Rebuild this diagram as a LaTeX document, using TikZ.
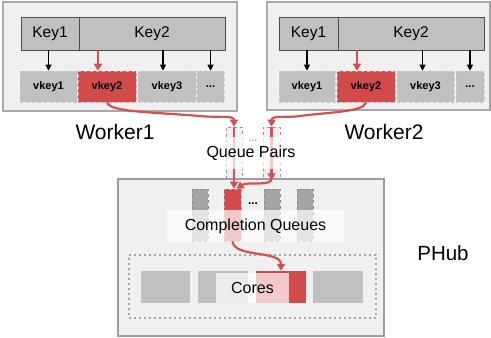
\documentclass[tikz,border=0pt]{standalone}
\usepackage{fontspec}
\setmainfont{Liberation Sans}
\usetikzlibrary{arrows.meta}
\definecolor{myred}{RGB}{210,75,75}
\definecolor{redline}{RGB}{214,80,80}
\definecolor{bgfill}{RGB}{240,240,240}
\definecolor{wborder}{RGB}{168,168,168}
\definecolor{keyfill}{RGB}{192,192,192}
\definecolor{cqfill}{RGB}{165,165,165}
\definecolor{corefill}{RGB}{192,192,192}
\newcommand\bx[7]{%
  \pgfmathsetmacro\bxw{#4-#2}\pgfmathsetmacro\bxh{#5-#3}%
  \pgfmathsetmacro\bxcx{(#2+#4)/2}\pgfmathsetmacro\bxcy{(#3+#5)/2}%
  \node[rectangle, inner sep=0pt, minimum width=\bxw pt, minimum height=\bxh pt, #6] (#1) at (\bxcx,\bxcy) {#7};}
\tikzset{
  wbox/.style={fill=bgfill, draw=wborder, line width=2pt},
  keybox/.style={fill=keyfill, draw=black!70, line width=0.8pt, font=\fontsize{15.5}{18}\selectfont},
  vbox/.style={fill=keyfill, draw=white!80!black, dashed, line width=0.6pt, font=\bfseries\fontsize{11}{13}\selectfont},
  vred/.style={vbox, fill=myred, draw=myred!50},
  qpbox/.style={fill=bgfill, draw=black!40, dashed, line width=0.6pt},
  cqgray/.style={fill=cqfill, draw=black!45, dashed, line width=0.6pt},
  cqred/.style={fill=myred, draw=myred!60, dashed, line width=0.6pt},
  coregray/.style={fill=corefill},
  corered/.style={fill=myred},
  lblbox/.style={fill=white, fill opacity=0.7, text opacity=1, font=\fontsize{16}{19}\selectfont},
  dotbox/.style={draw=black!35, line width=2pt, dash pattern=on 2pt off 3pt},
  phubbox/.style={fill=bgfill, draw=black!38, line width=2.5pt},
  wlabel/.style={font=\fontsize{21}{25}\selectfont},
  karrow/.style={draw=black, line width=1.1pt, -{Triangle[length=6pt,width=6pt]}},
  rarrow/.style={draw=redline, line width=2.2pt, -{Triangle[length=7pt,width=8pt]}},
}
\begin{document}
\begin{tikzpicture}[x=1pt,y=-1pt]
\useasboundingbox (0,0) rectangle (491,338);
% Worker1
\bx{w1}{3}{2}{237}{111}{wbox}{}
\bx{w1k1}{21}{17}{79}{50}{keybox}{Key1}
\bx{w1k2}{79}{17}{225}{50}{keybox}{Key2}
\bx{w1v1}{20}{71}{77}{102}{vbox}{vkey1}
\bx{w1v2}{78}{71}{136}{102}{vred}{vkey2}
\bx{w1v3}{138}{71}{196}{102}{vbox}{vkey3}
\bx{w1v4}{197}{71}{224}{102}{vbox}{...}
\draw[karrow] (w1k1.south -| w1v1.north) -- (w1v1.north);
\draw[rarrow] ([xshift=-9pt]w1v2.north |- w1k2.south) -- ([xshift=-9pt]w1v2.north);
\draw[karrow] ([xshift=-4pt]w1v3.north |- w1k2.south) -- ([xshift=-4pt]w1v3.north);
\draw[karrow] (w1v4.north |- w1k2.south) -- (w1v4.north);
\node[wlabel] (w1l) at (115,132) {Worker1};
% Worker2
\bx{w2}{267}{2}{490}{110}{wbox}{}
\bx{w2k1}{279}{17}{338}{50}{keybox}{Key1}
\bx{w2k2}{338}{17}{484}{50}{keybox}{Key2}
\bx{w2v1}{279}{71}{335}{102}{vbox}{vkey1}
\bx{w2v2}{337}{71}{395}{102}{vred}{vkey2}
\bx{w2v3}{397}{71}{454}{102}{vbox}{vkey3}
\bx{w2v4}{456}{71}{484}{102}{vbox}{...}
\draw[karrow] (w2k1.south -| w2v1.north) -- (w2v1.north);
\draw[rarrow] ([xshift=-9pt]w2v2.north |- w2k2.south) -- ([xshift=-9pt]w2v2.north);
\draw[karrow] ([xshift=-3pt]w2v3.north |- w2k2.south) -- ([xshift=-3pt]w2v3.north);
\draw[karrow] (w2v4.north |- w2k2.south) -- (w2v4.north);
\node[wlabel] (w2l) at (384,132) {Worker2};
% PHub
\bx{phub}{118}{179}{384}{336}{phubbox}{}
\node[font=\fontsize{20.5}{24}\selectfont] (phl) at (443,253) {PHub};
% Queue pairs
\bx{qp1}{226}{127}{242}{178}{qpbox}{}
\bx{qp2}{263}{127}{280}{178}{qpbox}{}
% Completion queues
\bx{cq1}{192}{189}{208}{241}{cqgray}{}
\bx{cq2}{224}{189}{241}{241}{cqred}{}
\bx{cq3}{264}{189}{280}{241}{cqgray}{}
\bx{cq4}{297}{189}{313}{241}{cqgray}{}
\node[font=\bfseries\fontsize{12}{14}\selectfont] (cqd) at (253,204) {...};
% red lines through queue pairs
\draw[rarrow] (qp1.north) -- (qp1.north |- cq2.north);
\draw[rarrow] (qp2.north) -- ([yshift=-2pt]qp2.south);
\bx{qpl}{200}{137}{302}{169}{lblbox}{Queue Pairs}
\node[text=black!30, font=\bfseries\fontsize{10}{12}\selectfont] (qpd) at (253,141) {...};
\draw[rarrow] (w1v2.south) .. controls (110,112) and (150,112) .. (200,116) .. controls (220,118) and (234,115) .. (qp1.north);
\draw[rarrow] (w2v2.south) .. controls (364,112) and (330,112) .. (300,116) .. controls (285,118) and (271.5,115) .. (qp2.north);
\draw[rarrow] (qp2.south) .. controls (272,187) and (248,181) .. ([xshift=4pt]cq2.north);
\bx{cql}{167}{210}{344}{242}{lblbox}{Completion Queues}
% Cores
\bx{cores}{129}{255}{376}{318}{dotbox}{}
\bx{c1}{141}{271}{190}{303}{coregray}{}
\bx{c2}{198}{271}{248}{303}{coregray}{}
\bx{c3}{256}{271}{306}{303}{corered}{}
\bx{c4}{313}{271}{363}{303}{coregray}{}
\bx{corel}{216}{273}{289}{303}{lblbox}{Cores}
\draw[rarrow] (cq2.south) .. controls (234,258) and (281,250) .. (c3.north);
\end{tikzpicture}
\end{document}
